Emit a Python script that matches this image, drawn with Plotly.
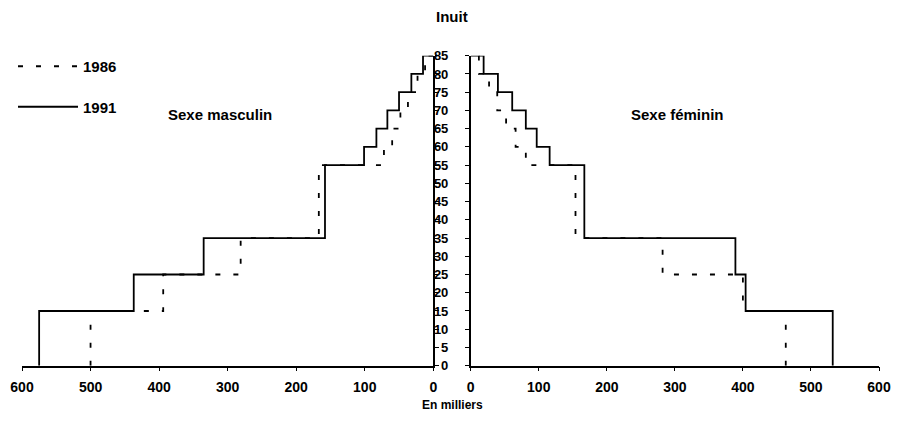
import plotly.graph_objects as go
from plotly.subplots import make_subplots

# Age groups (lower bounds) and top bound
age_lower = [0, 15, 25, 35, 55, 60, 65, 70, 75, 80]
age_top = 85

# Values in thousands
male_1986 = [500, 394, 281, 167, 72, 60, 48, 37, 23, 12]
male_1991 = [575, 437, 335, 158, 101, 83, 67, 50, 32, 15]
female_1986 = [463, 400, 282, 154, 81, 66, 52, 39, 27, 12]
female_1991 = [532, 404, 389, 167, 116, 97, 81, 61, 40, 19]

x_ticks = [0, 100, 200, 300, 400, 500, 600]
y_ticks = list(range(0, 86, 5))

FONT = "Arial, Liberation Sans, sans-serif"
# page body has an 8px margin; work in figure pixels = screen pixels - 8
OFF = 8
W, H = 899 - 2 * OFF, 423 - 2 * OFF


def px_x(x):
    return (x - OFF) / W


def px_y(y):
    return 1 - (y - OFF) / H


fig = make_subplots(rows=1, cols=2, shared_yaxes=False)


def step_xy(vals):
    return list(vals) + [0], list(age_lower) + [age_top]


dash_style = "5px,13px"

for col, (v86, v91) in enumerate([(male_1986, male_1991), (female_1986, female_1991)], start=1):
    x86, y86 = step_xy(v86)
    x91, y91 = step_xy(v91)
    fig.add_trace(go.Scatter(x=x86, y=y86, mode="lines",
                             line=dict(shape="vh", color="black", width=1.8, dash=dash_style),
                             name="1986", legendgroup="a", showlegend=(col == 1)), row=1, col=col)
    fig.add_trace(go.Scatter(x=x91, y=y91, mode="lines",
                             line=dict(shape="vh", color="black", width=1.8),
                             name="1991", legendgroup="b", showlegend=(col == 1)), row=1, col=col)

bold = lambda s: dict(family=FONT, size=s, color="black", weight="bold")

xaxis_common = dict(tickvals=x_ticks, ticks="outside", ticklen=4, showline=True, linecolor="black",
                    linewidth=1.5, tickcolor="black", showgrid=False, zeroline=False,
                    tickfont=bold(14), automargin=False, ticklabelstandoff=4, fixedrange=True)
yaxis_common = dict(domain=[px_y(365.7), px_y(55.7)], range=[0, 85], tickvals=y_ticks,
                    ticks="outside", ticklen=4, showline=True, linecolor="black", linewidth=1.5,
                    tickcolor="black", showgrid=False, zeroline=False, automargin=False, fixedrange=True)

fig.update_layout(
    width=W, height=H,
    margin=dict(l=0, r=0, t=0, b=0),
    paper_bgcolor="white", plot_bgcolor="white",
    showlegend=True,
    legend=dict(x=px_x(13), y=px_y(50), xanchor="left", yanchor="top", tracegroupgap=18,
                font=bold(15), bgcolor="rgba(0,0,0,0)", itemwidth=60),
    xaxis=dict(domain=[px_x(22), px_x(433.3)], range=[600, 0], **xaxis_common),
    xaxis2=dict(domain=[px_x(470.7), px_x(879)], range=[0, 600], **xaxis_common),
    yaxis=dict(side="right", showticklabels=False, **yaxis_common),
    yaxis2=dict(side="left", showticklabels=True, tickfont=bold(13), ticklabelstandoff=14, **yaxis_common),
    annotations=[
        dict(text="Inuit", x=px_x(452), y=px_y(16), xref="paper", yref="paper", showarrow=False,
             xanchor="center", yanchor="middle", font=bold(15)),
        dict(text="En milliers", x=px_x(452), y=px_y(405), xref="paper", yref="paper", showarrow=False,
             xanchor="center", yanchor="middle", font=bold(12)),
        dict(text="Sexe masculin", x=px_x(220), y=px_y(114), xref="paper", yref="paper", showarrow=False,
             xanchor="center", yanchor="middle", font=bold(15)),
        dict(text="Sexe féminin", x=px_x(677), y=px_y(114), xref="paper", yref="paper", showarrow=False,
             xanchor="center", yanchor="middle", font=bold(15)),
    ],
)

fig.write_html("out.html")
